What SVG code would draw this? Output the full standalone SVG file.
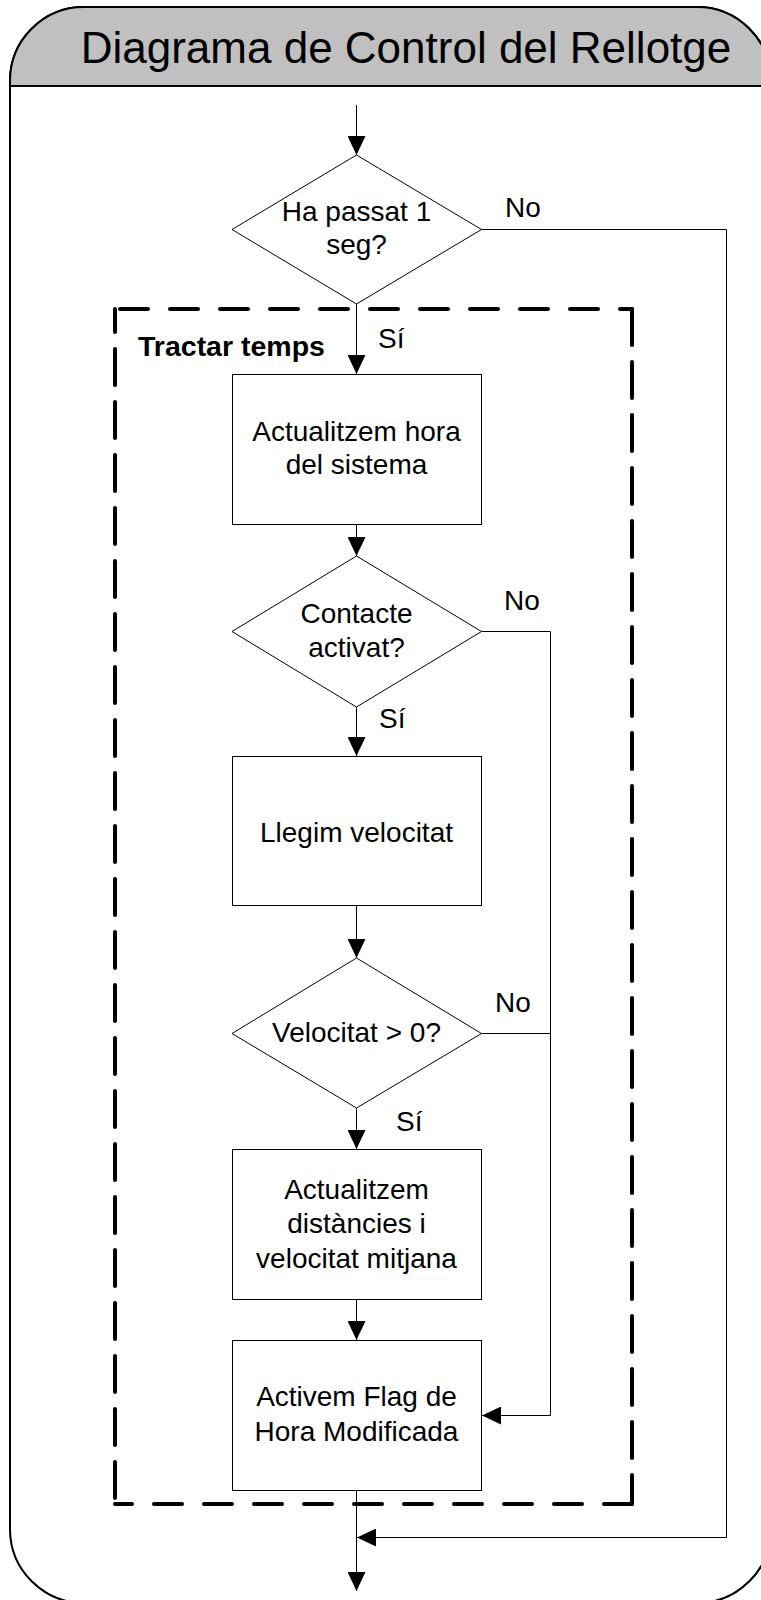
<svg xmlns="http://www.w3.org/2000/svg" width="761" height="1600" viewBox="0 0 761 1600">
<style>
text{font-family:"Liberation Sans",Arial,sans-serif;fill:#000}
.t{font-size:28px;text-anchor:middle}
.l{font-size:28px}
.shape{fill:#fff;stroke:#000;stroke-width:1}
.c{fill:none;stroke:#000;stroke-width:1}
.dash{fill:none;stroke:#000;stroke-width:4;stroke-linecap:round}
</style>
<defs>
<marker id="arr" markerUnits="userSpaceOnUse" markerWidth="19" markerHeight="18" refX="19" refY="9" orient="auto">
<path d="M0,0 L19,9 L0,18 z" fill="#000"/>
</marker>
</defs>
<g id="frame">
<path d="M10,81 A74,74 0 0 1 84,7 L697,7 A74,74 0 0 1 771,81 L771,1529 A74,74 0 0 1 697,1603 L84,1603 A74,74 0 0 1 10,1529 Z" fill="#fff" stroke="#000" stroke-width="2"/>
<path d="M10,86 L10,81 A74,74 0 0 1 84,7 L697,7 A74,74 0 0 1 771,81 L771,86 Z" fill="#c0c0c0" stroke="#000" stroke-width="2"/>
<text x="406" y="63" style="font-size:44px" text-anchor="middle">Diagrama de Control del Rellotge</text>
</g>
<g id="group-tractar">
<path class="dash" d="M120,309 L632,309" stroke-dasharray="28 22"/>
<path class="dash" d="M632,309 L632,1504" stroke-dasharray="36 17"/>
<path class="dash" d="M632,1504 L115,1504" stroke-dasharray="28 22"/>
<path class="dash" d="M115,1498 L115,309" stroke-dasharray="36 17"/>
<text x="138" y="356" style="font-size:28.5px;font-weight:bold">Tractar temps</text>
</g>
<g id="connectors">
<path class="c" d="M356.5,105 L356.5,155" marker-end="url(#arr)"/>
<path class="c" d="M356.5,304 L356.5,374" marker-end="url(#arr)"/>
<path class="c" d="M356.5,525 L356.5,556" marker-end="url(#arr)"/>
<path class="c" d="M356.5,707 L356.5,756" marker-end="url(#arr)"/>
<path class="c" d="M356.5,906 L356.5,958" marker-end="url(#arr)"/>
<path class="c" d="M356.5,1108 L356.5,1149" marker-end="url(#arr)"/>
<path class="c" d="M356.5,1300 L356.5,1340" marker-end="url(#arr)"/>
<path class="c" d="M356.5,1491 L356.5,1591" marker-end="url(#arr)"/>
<path class="c" d="M481.5,229.5 L726.5,229.5 L726.5,1537.5 L357,1537.5" marker-end="url(#arr)"/>
<path class="c" d="M481.5,631.5 L550.5,631.5 L550.5,1415.5 L482,1415.5" marker-end="url(#arr)"/>
<path class="c" d="M481.5,1033.5 L550.5,1033.5"/>
<text class="l" x="505" y="217">No</text>
<text class="l" x="378" y="348">Sí</text>
<text class="l" x="504" y="610">No</text>
<text class="l" x="379" y="728">Sí</text>
<text class="l" x="495" y="1012">No</text>
<text class="l" x="396" y="1131">Sí</text>
</g>
<g id="d1">
<path class="shape" d="M356.5,155 L481.5,229.5 L356.5,304 L232,229.5 Z"/>
<text class="t" x="356.5" y="221">Ha passat 1</text>
<text class="t" x="356.5" y="254">seg?</text>
</g>
<g id="b1">
<rect class="shape" x="232.5" y="374.5" width="249" height="150"/>
<text class="t" x="356.5" y="441">Actualitzem hora</text>
<text class="t" x="356.5" y="474">del sistema</text>
</g>
<g id="d2">
<path class="shape" d="M356.5,556 L481.5,631.5 L356.5,707 L232,631.5 Z"/>
<text class="t" x="356.5" y="623">Contacte</text>
<text class="t" x="356.5" y="657">activat?</text>
</g>
<g id="b2">
<rect class="shape" x="232.5" y="756.5" width="249" height="149"/>
<text class="t" x="356.5" y="842">Llegim velocitat</text>
</g>
<g id="d3">
<path class="shape" d="M356.5,958 L481.5,1033.5 L356.5,1108 L232,1033.5 Z"/>
<text class="t" x="356.5" y="1042">Velocitat &gt; 0?</text>
</g>
<g id="b3">
<rect class="shape" x="232.5" y="1149.5" width="249" height="150"/>
<text class="t" x="356.5" y="1199">Actualitzem</text>
<text class="t" x="356.5" y="1233">distàncies i</text>
<text class="t" x="356.5" y="1268">velocitat mitjana</text>
</g>
<g id="b4">
<rect class="shape" x="232.5" y="1340.5" width="249" height="150"/>
<text class="t" x="356.5" y="1406">Activem Flag de</text>
<text class="t" x="356.5" y="1441">Hora Modificada</text>
</g>
</svg>
